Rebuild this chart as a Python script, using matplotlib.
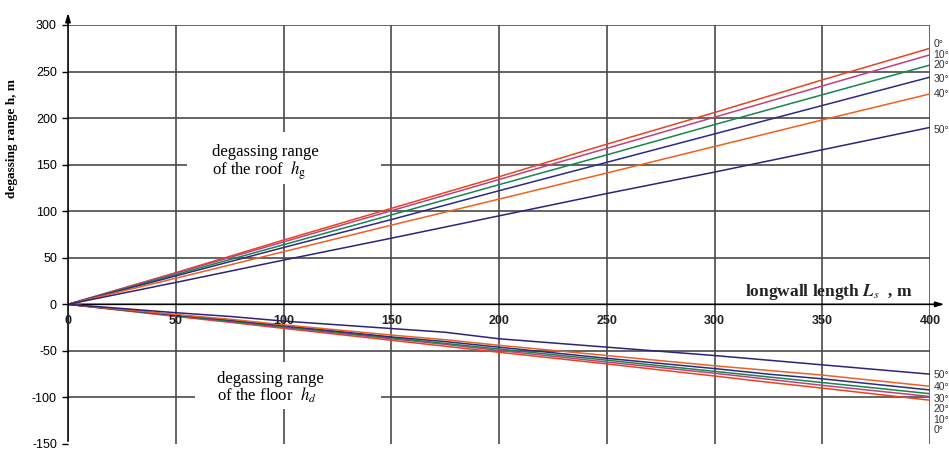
import matplotlib

matplotlib.use("Agg")
import matplotlib.pyplot as plt
from matplotlib.patches import Rectangle

plt.rcParams["mathtext.fontset"] = "stix"
plt.rcParams["axes.unicode_minus"] = False

# longwall length L_s (m)
roof_x = [0, 50, 100, 150, 200, 250, 300, 350, 400]
floor_x = [0, 50, 75, 100, 150, 175, 200, 250, 300, 325, 350, 400]

angles = ["0°", "10°", "20°", "30°", "40°", "50°"]

# degassing range of the roof h_g (m)
roof = {
    "0°": [0, 34, 69, 103, 137, 172, 206, 241, 275],
    "10°": [0, 33.5, 67, 100.5, 134, 167.5, 201, 234.5, 268],
    "20°": [0, 32, 64, 96, 128.5, 160.5, 193, 225, 257],
    "30°": [0, 30.5, 61, 91, 122, 152.5, 183, 213.5, 244],
    "40°": [0, 28, 56.5, 85, 113, 141, 169.5, 198, 226],
    "50°": [0, 23.5, 47.5, 71, 95, 119, 142, 166, 190],
}

# degassing range of the floor h_d (m)
floor = {
    "0°": [0, -13, -19.3, -25.8, -38.6, -45, -51.5, -64, -77, -83.7, -90, -103],
    "10°": [0, -12.4, -18.6, -24.8, -37, -43, -49.6, -62, -74, -80.5, -87, -99],
    "20°": [0, -12, -18, -24, -36, -42, -48, -60, -72, -78, -84, -96],
    "30°": [0, -11.5, -17, -23, -35, -40, -46, -58, -69, -75, -80, -92],
    "40°": [0, -11, -16, -22, -33, -38, -44, -55, -66, -71, -76, -88],
    "50°": [0, -9, -13, -18, -26, -30, -37, -46, -55, -60, -65, -75],
}

colors = {
    "0°": "#e8431f",
    "10°": "#c23f7e",
    "20°": "#15874a",
    "30°": "#2b2a86",
    "40°": "#f0601e",
    "50°": "#2e2378",
}

# where the angle labels sit at the right edge (spread apart, like the original)
roof_lab_y = [280, 268, 256.5, 242.5, 226, 187.6]
floor_lab_y = [-134.9, -124, -112.4, -101.6, -88.7, -75.8]

fig = plt.figure(figsize=(9.49, 4.55), dpi=100)
ax = fig.add_axes([0.0717, 0.0242, 0.9083, 0.9209])
ax.set_xlim(0, 400)
ax.set_ylim(-150, 300)

grid_c = "#4a4a4a"
for gx in range(50, 401, 50):
    ax.plot([gx, gx], [-150, 300], color=grid_c, lw=1.2, zorder=1)
for gy in [-100, -50, 50, 100, 150, 200, 250, 300]:
    ax.plot([0, 400], [gy, gy], color=grid_c, lw=1.2, zorder=1)

# white patches behind the two notes (they cut the grid, as in the original)
ax.add_patch(Rectangle((55, 129.5), 90, 55.5, facecolor="white", edgecolor="none", zorder=2))
ax.add_patch(Rectangle((59, -112.5), 86, 51, facecolor="white", edgecolor="none", zorder=2))

for a in angles:
    ax.plot(roof_x, roof[a], color=colors[a], lw=1.1, zorder=3)
    ax.plot(floor_x, floor[a], color=colors[a], lw=1.1, zorder=3)

for a, yl in zip(angles, roof_lab_y):
    ax.text(401.5, yl, a, fontsize=7.5, family="Liberation Sans", color="#333333",
            va="center", ha="left", clip_on=False)
for a, yl in zip(angles, floor_lab_y):
    ax.text(401.5, yl, a, fontsize=7.5, family="Liberation Sans", color="#333333",
            va="center", ha="left", clip_on=False)

# axes drawn as arrows
for s in ["top", "right", "bottom", "left"]:
    ax.spines[s].set_visible(False)
ax.annotate("", xy=(0, 316), xytext=(0, -150), annotation_clip=False,
            arrowprops=dict(arrowstyle="-|>,head_length=0.5,head_width=0.15", color="black", lw=1.2))
ax.annotate("", xy=(408, 0), xytext=(0, 0), annotation_clip=False,
            arrowprops=dict(arrowstyle="-|>,head_length=0.5,head_width=0.15", color="black", lw=1.2),
            zorder=2)

ax.set_yticks(range(-150, 301, 50))
ax.tick_params(axis="y", direction="out", length=4, width=1, labelsize=9, pad=4)
for t in ax.get_yticklabels():
    t.set_family("Liberation Sans")
ax.set_xticks([])
for gx in range(0, 401, 50):
    ax.text(gx, -18, str(gx), ha="center", va="center", fontsize=9, fontweight="bold",
            family="Liberation Sans", color="#222222", zorder=4)

ax.set_ylabel("degassing range h, m", fontsize=9.5, fontweight="bold",
              family="Liberation Serif")
ax.yaxis.set_label_coords(-0.058, 0.728)

ax.text(392, 8.5, r"longwall length $\mathbfit{L}_{s}$  , m", ha="right", va="baseline",
        fontsize=12.5, fontweight="bold", family="Liberation Serif", color="#222222", zorder=4)

ax.text(67, 152, "degassing range\nof the roof  $h_{\\rm g}$", ha="left", va="center",
        fontsize=12, family="Liberation Serif", linespacing=0.95, zorder=4)
ax.text(69, -90, "degassing range\nof the floor  $h_d$", ha="left", va="center",
        fontsize=12, family="Liberation Serif", linespacing=0.95, zorder=4)

fig.savefig("out.png", dpi=100)
